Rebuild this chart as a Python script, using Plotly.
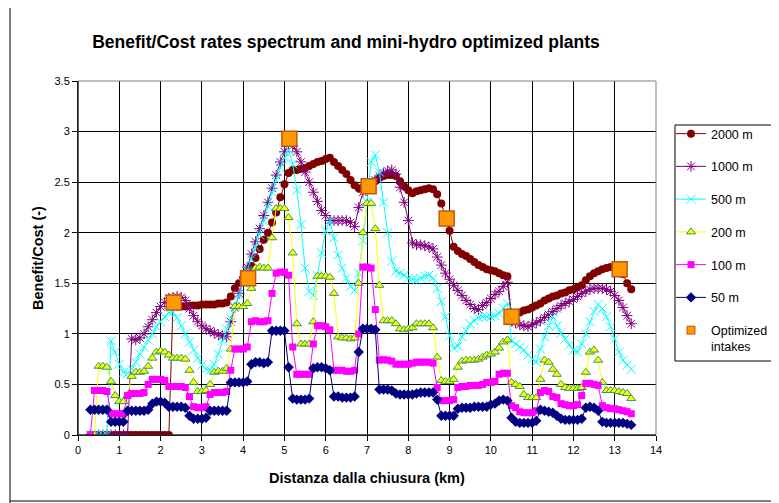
import plotly.graph_objects as go

# Distance from the outlet (km), sampling grid of the B/C spectrum
distance_km = [round(0.3 + 0.1 * i, 1) for i in range(132)]

bc_2000m = [0.0] * 20 + [
    1.28, 1.27, 1.27, 1.27, 1.28, 1.28, 1.28, 1.29, 1.29, 1.29,
    1.29, 1.30, 1.30, 1.31, 1.37, 1.45, 1.50, 1.55, 1.59, 1.67,
    1.75, 1.84, 1.93, 2.00, 2.10, 2.20, 2.35, 2.48, 2.59, 2.62,
    2.62, 2.63, 2.64, 2.66, 2.68, 2.70, 2.71, 2.73, 2.74, 2.70,
    2.66, 2.62, 2.58, 2.52, 2.47, 2.44, 2.44, 2.45, 2.48, 2.51,
    2.54, 2.56, 2.57, 2.57, 2.56, 2.51, 2.46, 2.42, 2.39, 2.41,
    2.42, 2.43, 2.44, 2.43, 2.38, 2.29, 2.16, 2.02, 1.86, 1.82,
    1.79, 1.77, 1.74, 1.71, 1.68, 1.66, 1.64, 1.63, 1.62, 1.60,
    1.58, 1.57, 1.18, 1.20, 1.21, 1.23, 1.24, 1.26, 1.28, 1.30,
    1.33, 1.35, 1.37, 1.38, 1.40, 1.41, 1.43, 1.44, 1.46, 1.48,
    1.53, 1.57, 1.60, 1.62, 1.64, 1.65, 1.66, 1.66, 1.64, 1.59,
    1.50, 1.44]

bc_1000m = [0.0] * 10 + [
    0.95, 0.94, 0.96, 1.00, 1.07, 1.14, 1.21, 1.27, 1.31, 1.35,
    1.36, 1.37, 1.36, 1.33, 1.25, 1.18, 1.12, 1.08, 1.05, 1.03,
    1.01, 0.99, 0.98, 0.97, 1.12, 1.26, 1.40, 1.53, 1.66, 1.79,
    1.91, 2.04, 2.17, 2.30, 2.44, 2.57, 2.70, 2.80, 2.88, 2.86,
    2.80, 2.70, 2.60, 2.50, 2.40, 2.31, 2.22, 2.17, 2.12, 2.12,
    2.12, 2.12, 2.12, 2.10, 2.06, 2.25, 2.40, 2.46, 2.48, 2.52,
    2.56, 2.59, 2.61, 2.62, 2.58, 2.45, 2.30, 2.12, 1.90, 1.88,
    1.88, 1.87, 1.86, 1.84, 1.76, 1.68, 1.60, 1.54, 1.48, 1.43,
    1.38, 1.33, 1.29, 1.25, 1.24, 1.28, 1.31, 1.35, 1.39, 1.42,
    1.47, 1.51, 1.13, 1.11, 1.09, 1.08, 1.07, 1.09, 1.11, 1.13,
    1.16, 1.19, 1.22, 1.25, 1.28, 1.30, 1.32, 1.34, 1.37, 1.40,
    1.42, 1.44, 1.45, 1.45, 1.45, 1.44, 1.42, 1.38, 1.33, 1.26,
    1.18, 1.10]

bc_500m = [0.0] * 5 + [
    0.93, 0.82, 0.70, 0.62, 0.61, 0.65, 0.72, 0.80, 0.87, 0.94,
    1.00, 1.07, 1.12, 1.17, 1.21, 1.22, 1.16, 1.08, 1.00, 0.92,
    0.84, 0.76, 0.69, 0.65, 0.64, 0.70, 0.80, 0.93, 1.05, 1.15,
    1.27, 1.38, 1.50, 1.62, 1.74, 1.86, 1.98, 2.12, 2.26, 2.40,
    2.52, 2.64, 2.74, 2.82, 2.68, 2.42, 2.08, 1.65, 1.42, 1.38,
    1.58, 1.80, 2.02, 2.12, 1.95, 1.78, 1.65, 1.55, 1.47, 1.43,
    1.60, 1.92, 2.30, 2.70, 2.77, 2.60, 2.30, 2.00, 1.72, 1.62,
    1.60, 1.58, 1.55, 1.54, 1.53, 1.55, 1.57, 1.58, 1.55, 1.45,
    1.32, 1.17, 0.98, 0.86, 0.88, 0.97, 1.03, 1.10, 1.13, 1.16,
    1.17, 1.17, 1.17, 1.18, 1.20, 1.25, 1.30, 0.93, 0.90, 0.87,
    0.84, 0.79, 0.75, 0.72, 0.85, 0.97, 1.08, 1.17, 1.08, 1.01,
    0.95, 0.89, 0.84, 0.82, 0.90, 1.00, 1.12, 1.22, 1.29, 1.25,
    1.17, 1.07, 0.95, 0.82, 0.74, 0.69, 0.65]

bc_200m = [0.0] * 2 + [
    0.68, 0.68, 0.67, 0.53, 0.39, 0.33, 0.33, 0.39, 0.58, 0.62,
    0.62, 0.63, 0.68, 0.76, 0.82, 0.83, 0.82, 0.79, 0.76, 0.76,
    0.76, 0.75, 0.64, 0.52, 0.43, 0.43, 0.44, 0.50, 0.62, 0.63,
    0.63, 0.66, 0.85, 1.27, 1.27, 1.27, 1.30, 1.45, 1.65, 1.66,
    1.65, 1.65, 1.95, 2.24, 2.24, 2.24, 2.15, 1.80, 1.10, 0.90,
    0.90, 0.90, 1.12, 1.57, 1.57, 1.57, 1.56, 1.40, 0.97, 0.96,
    0.96, 0.95, 0.96, 1.50, 2.00, 2.29, 2.29, 2.04, 1.48, 1.13,
    1.13, 1.13, 1.10, 1.05, 1.04, 1.05, 1.06, 1.10, 1.10, 1.10,
    1.10, 1.06, 0.77, 0.54, 0.53, 0.53, 0.55, 0.67, 0.73, 0.74,
    0.74, 0.74, 0.75, 0.77, 0.79, 0.80, 0.82, 0.86, 0.92, 0.94,
    0.52, 0.50, 0.48, 0.40, 0.37, 0.37, 0.37, 0.55, 0.74, 0.72,
    0.65, 0.60, 0.50, 0.47, 0.46, 0.46, 0.46, 0.47, 0.62, 0.82,
    0.84, 0.74, 0.52, 0.44, 0.44, 0.44, 0.43, 0.42, 0.41, 0.36]

bc_100m = [0.0] + [
    0.44, 0.44, 0.44, 0.43, 0.21, 0.21, 0.21, 0.21, 0.39, 0.41,
    0.41, 0.41, 0.42, 0.50, 0.55, 0.55, 0.55, 0.54, 0.48, 0.48,
    0.48, 0.48, 0.47, 0.38, 0.28, 0.27, 0.27, 0.28, 0.40, 0.42,
    0.42, 0.42, 0.43, 0.64, 0.85, 0.85, 0.85, 0.87, 1.12, 1.13,
    1.12, 1.12, 1.13, 1.40, 1.60, 1.61, 1.61, 1.58, 0.87, 0.60,
    0.60, 0.60, 0.60, 0.90, 1.08, 1.08, 1.07, 1.04, 0.64, 0.64,
    0.64, 0.63, 0.63, 0.64, 1.00, 1.66, 1.66, 1.65, 1.24, 0.74,
    0.745, 0.74, 0.73, 0.70, 0.70, 0.70, 0.70, 0.71, 0.72, 0.72,
    0.72, 0.72, 0.71, 0.47, 0.34, 0.34, 0.34, 0.35, 0.47, 0.48,
    0.48, 0.49, 0.49, 0.49, 0.50, 0.52, 0.52, 0.53, 0.60, 0.61,
    0.61, 0.29, 0.27, 0.23, 0.22, 0.22, 0.22, 0.24, 0.42, 0.44,
    0.43, 0.38, 0.37, 0.31, 0.30, 0.29, 0.29, 0.30, 0.39, 0.51,
    0.51, 0.50, 0.49, 0.29, 0.27, 0.26, 0.26, 0.25, 0.24, 0.23,
    0.21]

bc_50m = [
    0.25, 0.25, 0.25, 0.25, 0.25, 0.13, 0.13, 0.13, 0.13, 0.24,
    0.24, 0.24, 0.24, 0.24, 0.25, 0.31, 0.33, 0.33, 0.32, 0.28,
    0.28, 0.28, 0.28, 0.27, 0.19, 0.16, 0.16, 0.16, 0.17, 0.24,
    0.24, 0.24, 0.24, 0.24, 0.52, 0.52, 0.52, 0.52, 0.53, 0.70,
    0.72, 0.72, 0.71, 0.72, 1.03, 1.03, 1.03, 1.03, 0.67, 0.36,
    0.35, 0.35, 0.35, 0.36, 0.66, 0.67, 0.67, 0.66, 0.64, 0.38,
    0.38, 0.37, 0.37, 0.37, 0.38, 0.82, 1.05, 1.05, 1.05, 1.04,
    0.45, 0.45, 0.45, 0.44, 0.41, 0.40, 0.40, 0.40, 0.40, 0.41,
    0.42, 0.42, 0.42, 0.42, 0.35, 0.19, 0.19, 0.19, 0.19, 0.26,
    0.27, 0.27, 0.27, 0.28, 0.28, 0.28, 0.28, 0.30, 0.31, 0.34,
    0.35, 0.34, 0.17, 0.13, 0.12, 0.12, 0.12, 0.12, 0.14, 0.25,
    0.24, 0.23, 0.22, 0.19, 0.16, 0.15, 0.15, 0.15, 0.15, 0.16,
    0.27, 0.28, 0.27, 0.24, 0.13, 0.12, 0.12, 0.12, 0.12, 0.12,
    0.11, 0.10]

opt_x = [2.32, 4.12, 5.12, 7.04, 8.93, 10.50, 13.12]
opt_y = [1.31, 1.55, 2.93, 2.46, 2.14, 1.17, 1.64]

series_names = ["2000 m", "1000 m", "500 m", "200 m", "100 m", "50 m"]
series_values = [bc_2000m, bc_1000m, bc_500m, bc_200m, bc_100m, bc_50m]

FONT = "Arial, 'Liberation Sans', Helvetica, sans-serif"

styles = {
    "2000 m": dict(line="#800000", marker=dict(symbol="circle", size=8, color="#800000")),
    "1000 m": dict(line="#800080", marker=dict(symbol="asterisk", size=9, color="#800080",
                                               line=dict(width=1, color="#800080"))),
    "500 m": dict(line="#00FFFF", marker=dict(symbol="x-thin", size=9, color="#00FFFF",
                                              line=dict(width=1, color="#00FFFF"))),
    "200 m": dict(line="#FFFF00", marker=dict(symbol="triangle-up", size=8, color="#FFFF00",
                                              line=dict(width=1, color="#339966"))),
    "100 m": dict(line="#FF00FF", marker=dict(symbol="square", size=7, color="#FF00FF")),
    "50 m": dict(line="#000080", marker=dict(symbol="diamond", size=8, color="#000080")),
}

fig = go.Figure()
for name, vals in zip(series_names, series_values):
    st = styles[name]
    fig.add_trace(go.Scatter(
        x=distance_km, y=vals, name=name, mode="lines+markers",
        line=dict(color=st["line"], width=1), marker=st["marker"],
        legendgroup=name,
    ))

fig.add_trace(go.Scatter(
    x=opt_x, y=opt_y, mode="markers", showlegend=False,
    marker=dict(symbol="square", size=15, color="#FF9900",
                line=dict(width=1.5, color="#C0581A")),
))
# legend proxy for the optimized intakes (smaller symbol like in the original legend)
fig.add_trace(go.Scatter(
    x=[None], y=[None], mode="markers", name="Optimized<br>intakes",
    legendgroup="opt",
    marker=dict(symbol="square", size=8, color="#FF9900",
                line=dict(width=1, color="#C0581A")),
))

# the page body adds an 8 px offset, so the figure is laid out in screen px - 8
OFF = 8
W, H = 779 - OFF, 503 - OFF
L, R, T, B = 70, 123, 73, 68
pw, ph = W - L - R, H - T - B


def px_x(p):
    return (p - OFF - L) / pw


def px_y(p):
    return (H - B - (p - OFF)) / ph


fig.update_layout(
    width=W, height=H,
    margin=dict(l=L, r=R, t=T, b=B, pad=0, autoexpand=False),
    paper_bgcolor="white", plot_bgcolor="white",
    font=dict(family=FONT, color="black", size=11),
    title=dict(text="Benefit/Cost rates spectrum and mini-hydro optimized plants",
               font=dict(family=FONT, size=17.5, weight="bold", color="black"),
               x=(346 - OFF) / W, xanchor="center", xref="container",
               y=1 - (42 - OFF) / H, yanchor="middle", yref="container"),
    xaxis=dict(range=[0, 14], dtick=1, tick0=0, showgrid=True, gridcolor="black",
               gridwidth=1, zeroline=False, showline=True, linecolor="black",
               linewidth=1, ticks="outside", ticklen=5, tickcolor="black",
               tickfont=dict(size=11, family=FONT)),
    yaxis=dict(range=[0, 3.5], dtick=0.5, tick0=0, showgrid=True, gridcolor="black",
               gridwidth=1, zeroline=False, showline=True, linecolor="black",
               linewidth=1, ticks="outside", ticklen=5, tickcolor="black",
               tickfont=dict(size=11, family=FONT)),
    legend=dict(x=px_x(671), y=px_y(119), xanchor="left", yanchor="top",
                bgcolor="rgba(0,0,0,0)", borderwidth=0,
                font=dict(family=FONT, size=12.5, color="black"),
                tracegroupgap=13.5, valign="top", itemsizing="trace"),
    showlegend=True,
    annotations=[
        dict(text="<b>Benefit/Cost (-)</b>", xref="paper", yref="paper",
             x=px_x(38), y=0.5, textangle=-90, showarrow=False,
             font=dict(family=FONT, size=14.5, color="black"),
             xanchor="center", yanchor="middle"),
        dict(text="<b>Distanza dalla chiusura (km)</b>", xref="paper", yref="paper",
             x=0.5, y=px_y(478), showarrow=False,
             font=dict(family=FONT, size=14.5, color="black"),
             xanchor="center", yanchor="middle"),
    ],
    shapes=[
        # legend frame
        dict(type="rect", xref="paper", yref="paper", x0=px_x(675), x1=px_x(776),
             y0=px_y(361), y1=px_y(125), fillcolor="white",
             line=dict(color="black", width=1), layer="above"),
        # plot area frame
        dict(type="rect", xref="paper", yref="paper", x0=0, x1=1, y0=0, y1=1,
             line=dict(color="#808080", width=1), layer="above"),
        dict(type="line", xref="paper", yref="paper", x0=0, x1=1, y0=0, y1=0,
             line=dict(color="black", width=1), layer="above"),
        dict(type="line", xref="paper", yref="paper", x0=0, x1=0, y0=0, y1=1,
             line=dict(color="black", width=1), layer="above"),
        # chart area frame
        dict(type="line", xref="paper", yref="paper", x0=px_x(10), x1=px_x(10),
             y0=px_y(510), y1=px_y(-10), line=dict(color="black", width=1)),
        dict(type="line", xref="paper", yref="paper", x0=px_x(10), x1=px_x(790),
             y0=px_y(501), y1=px_y(501), line=dict(color="black", width=1)),
    ],
)

fig.write_html("out.html")
